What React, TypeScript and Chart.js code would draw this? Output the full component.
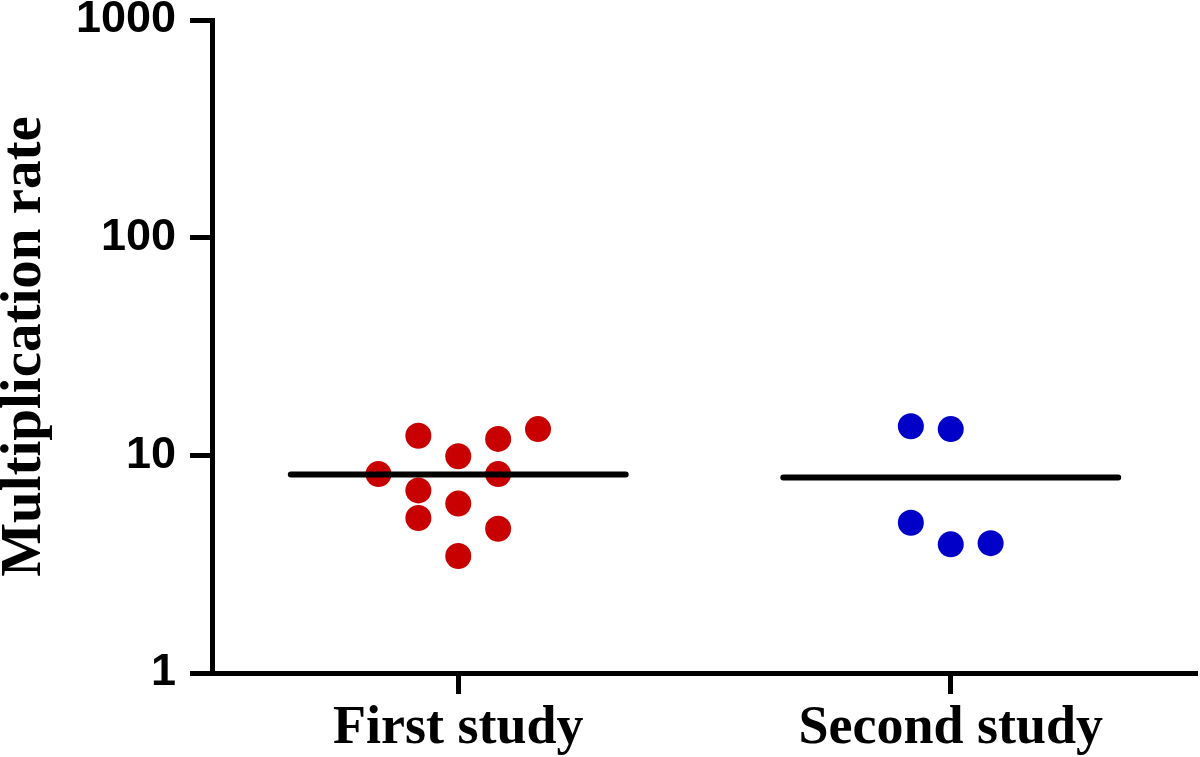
import React, { useEffect, useRef } from "react";
import { Chart, registerables } from "chart.js";

Chart.register(...registerables);

const categories = ["First study", "Second study"];
const firstStudy = [8.2, 12.3, 6.9, 5.15, 9.9, 6.0, 3.45, 11.9, 8.2, 4.6, 13.2];
const firstColumns = [-2, -1, -1, -1, 0, 0, 0, 1, 1, 1, 2];
const secondStudy = [13.6, 4.9, 13.2, 3.9, 3.95];
const secondColumns = [-1, -1, 0, 0, 1];
const yTicks = [1, 10, 100, 1000];

const COLUMN_STEP = 0.081;
const LINE_HALF = 0.34;

const mean = (a: number[]) => a.reduce((s, v) => s + v, 0) / a.length;

export default function App() {
  const ref = useRef<HTMLCanvasElement | null>(null);
  useEffect(() => {
    if (!ref.current) return;
    const firstMean = mean(firstStudy);
    const secondMean = mean(secondStudy);
    const chart = new Chart(ref.current, {
      type: "scatter",
      data: {
        datasets: [
          {
            type: "line",
            data: [
              { x: 0 - LINE_HALF, y: firstMean },
              { x: 0 + LINE_HALF, y: firstMean },
            ],
            borderColor: "#000",
            borderWidth: 6,
            pointRadius: 0,
            borderCapStyle: "round",
            order: 0,
          } as any,
          {
            type: "line",
            data: [
              { x: 1 - LINE_HALF, y: secondMean },
              { x: 1 + LINE_HALF, y: secondMean },
            ],
            borderColor: "#000",
            borderWidth: 6,
            pointRadius: 0,
            borderCapStyle: "round",
            order: 0,
          } as any,
          {
            data: firstStudy.map((v, i) => ({ x: 0 + firstColumns[i] * COLUMN_STEP, y: v })),
            backgroundColor: "#C80000",
            borderWidth: 0,
            pointRadius: 13,
            order: 1,
          },
          {
            data: secondStudy.map((v, i) => ({ x: 1 + secondColumns[i] * COLUMN_STEP, y: v })),
            backgroundColor: "#0000C8",
            borderWidth: 0,
            pointRadius: 13,
            order: 1,
          },
        ],
      },
      options: {
        animation: false,
        responsive: true,
        maintainAspectRatio: false,
        layout: { autoPadding: false, padding: { top: 20, right: 3, left: 0, bottom: 0 } },
        plugins: { legend: { display: false }, tooltip: { enabled: false } },
        scales: {
          x: {
            type: "linear",
            min: -0.5,
            max: 1.5,
            afterBuildTicks: (s: any) => {
              s.ticks = categories.map((_, i) => ({ value: i }));
            },
            afterFit: (s: any) => {
              s.height = 84;
              s.paddingLeft = 0;
              s.paddingRight = 0;
            },
            ticks: {
              callback: (v: any) => categories[Math.round(Number(v))] ?? "",
              font: { family: "Liberation Serif", weight: "bold", size: 54 },
              color: "#000",
              padding: 3,
              maxRotation: 0,
            },
            grid: { drawOnChartArea: false, drawTicks: true, tickLength: 21, tickWidth: 5, color: "#000" },
            border: { display: true, width: 5, color: "#000" },
          },
          y: {
            type: "logarithmic",
            min: 1,
            max: 1000,
            afterBuildTicks: (s: any) => {
              s.ticks = yTicks.map((v) => ({ value: v }));
            },
            afterFit: (s: any) => {
              s.width = 212;
              s.paddingTop = 0;
              s.paddingBottom = 0;
            },
            ticks: {
              callback: (v: any) => String(v),
              font: { family: "Liberation Sans", weight: "bold", size: 45 },
              color: "#000",
              padding: 14,
            },
            title: {
              display: true,
              text: "Multiplication rate",
              font: { family: "Liberation Serif", weight: "bold", size: 57, lineHeight: 0.9 },
              color: "#000",
              padding: 0,
            },
            grid: { drawOnChartArea: false, drawTicks: true, tickLength: 22, tickWidth: 5, color: "#000" },
            border: { display: true, width: 5, color: "#000" },
          },
        },
      },
    });
    return () => chart.destroy();
  }, []);
  return (
    <div style={{ position: "absolute", left: 0, top: 0, width: 1200, height: 757, background: "#fff" }}>
      <canvas ref={ref} />
    </div>
  );
}
